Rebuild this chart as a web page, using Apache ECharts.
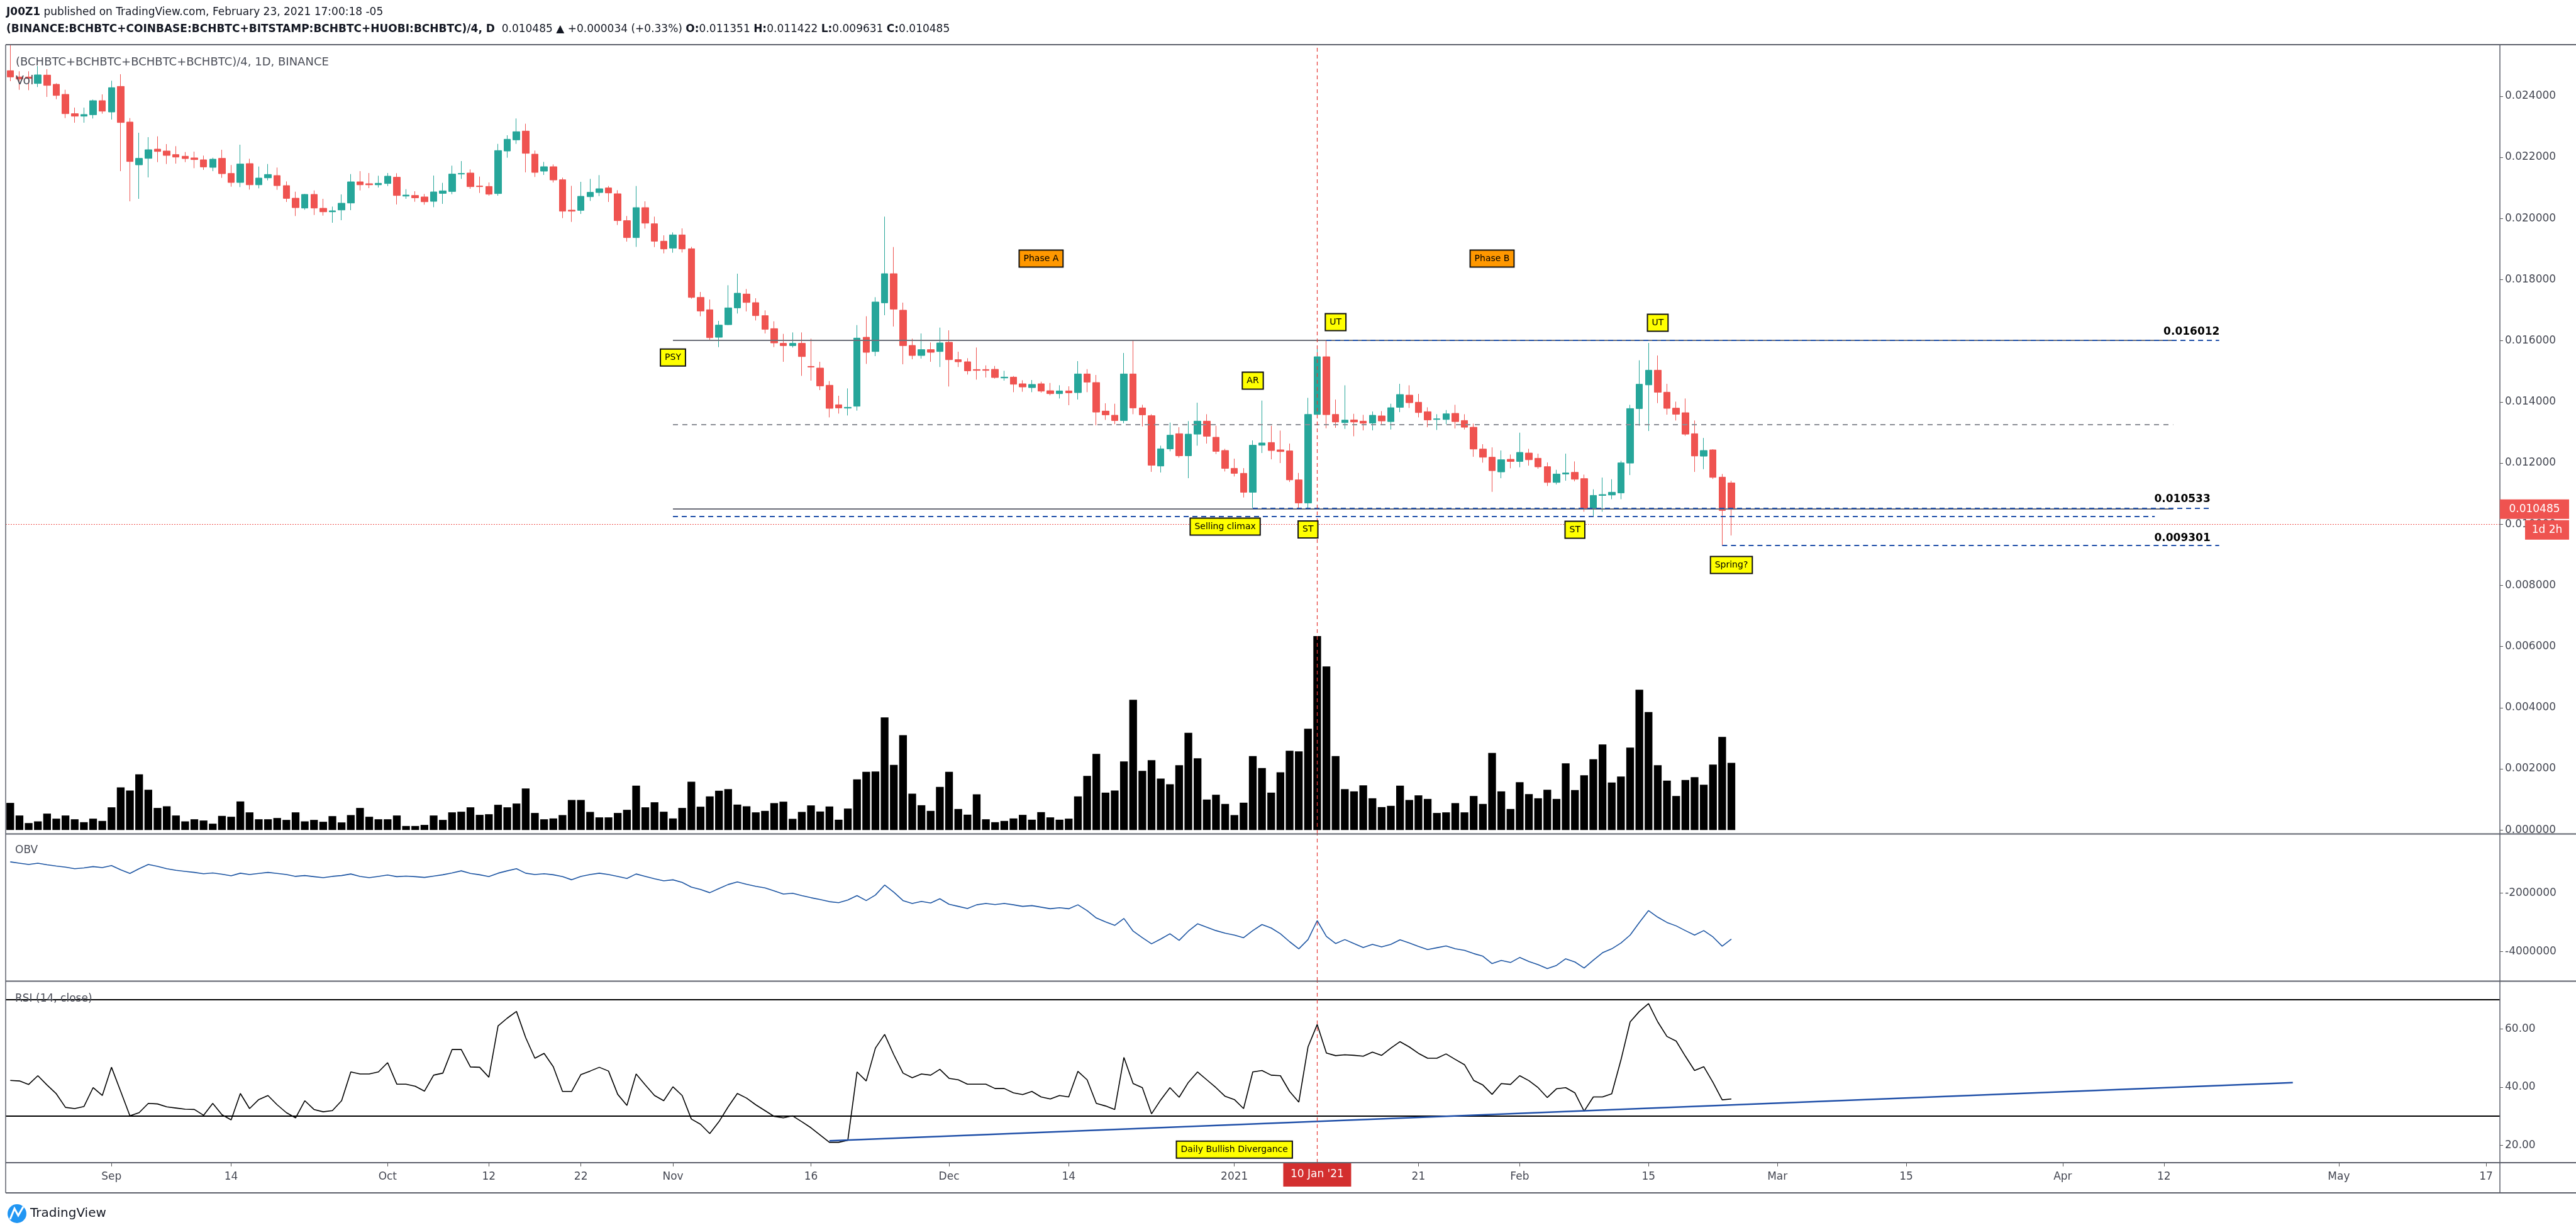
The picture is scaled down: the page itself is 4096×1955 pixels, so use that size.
<!DOCTYPE html>
<html><head><meta charset="utf-8">
<script src="https://cdn.jsdelivr.net/npm/echarts/dist/echarts.min.js"></script>
<style>html,body{margin:0;padding:0;background:#fff;overflow:hidden}#c{width:4096px;height:1955px}</style>
</head><body><div id="c"></div>
<script>
// ---- daily candles, Aug 21 2020 .. Feb 24 2021 (188 bars) ----
const opens = [
0.024834,0.024629,0.024629,0.024416,0.024690,0.024388,0.024059,0.023428,0.023346,0.023394,
0.023853,0.023483,0.024320,0.023154,0.021754,0.021967,0.022269,0.022207,0.022090,0.022036,
0.021981,0.021919,0.021672,0.021967,0.021473,0.021178,0.021795,0.021102,0.021329,0.021404,
0.021075,0.020664,0.020341,0.020787,0.020334,0.020218,0.020279,0.020506,0.021198,0.021137,
0.021102,0.021144,0.021349,0.020732,0.020753,0.020705,0.020561,0.020821,0.020883,0.021453,
0.021487,0.021062,0.021048,0.020815,0.022207,0.022571,0.022859,0.022104,0.021549,0.021693,
0.021267,0.020273,0.020266,0.020712,0.020849,0.021000,0.020808,0.019930,0.019374,0.020355,
0.019827,0.019257,0.019031,0.019463,0.019010,0.017419,0.017014,0.016115,0.016527,0.017076,
0.017529,0.017247,0.016822,0.016397,0.015917,0.015841,0.015917,0.015162,0.015107,0.014545,
0.013907,0.013797,0.013859,0.016115,0.015649,0.017241,0.018194,0.017001,0.015848,0.015519,
0.015711,0.015649,0.015951,0.015382,0.015313,0.015059,0.015059,0.015066,0.014785,0.014812,
0.014593,0.014469,0.014593,0.014366,0.014270,0.014360,0.014305,0.014915,0.014634,0.013701,
0.013564,0.013392,0.014915,0.013804,0.013550,0.011904,0.012466,0.012960,0.012240,0.012946,
0.013372,0.012844,0.012411,0.011828,0.011664,0.011046,0.012583,0.012672,0.012432,0.012398,
0.011451,0.010696,0.013591,0.015477,0.013591,0.013323,0.013412,0.013371,0.013309,0.013543,
0.013357,0.013824,0.014222,0.013989,0.013680,0.013426,0.013426,0.013625,0.013392,0.013172,
0.012459,0.012191,0.011711,0.012123,0.012054,0.012328,0.012157,0.011883,0.011368,0.011642,
0.011697,0.011492,0.010511,0.010943,0.010956,0.011025,0.011999,0.013783,0.014558,0.015038,
0.014318,0.013796,0.013646,0.012960,0.012226,0.012432,0.011540,0.011351];
const highs = [
0.025685,0.024814,0.024814,0.024985,0.024882,0.024423,0.024210,0.023627,0.023627,0.023888,
0.024059,0.024505,0.024718,0.023284,0.022804,0.022660,0.022687,0.022433,0.022365,0.022173,
0.022187,0.022056,0.021988,0.022248,0.021748,0.022413,0.021953,0.021699,0.021782,0.021665,
0.021212,0.020876,0.020801,0.020917,0.020643,0.020389,0.020787,0.021452,0.021548,0.021487,
0.021398,0.021487,0.021480,0.020958,0.020890,0.020801,0.021404,0.021165,0.021727,0.021878,
0.021604,0.021370,0.021178,0.022440,0.022722,0.023271,0.023099,0.022221,0.021850,0.021768,
0.021336,0.021068,0.021199,0.021295,0.021418,0.021062,0.020924,0.020081,0.021062,0.020561,
0.020060,0.019450,0.019545,0.019676,0.019072,0.017597,0.017350,0.016651,0.017817,0.018194,
0.017693,0.017391,0.016994,0.016637,0.016225,0.016273,0.016273,0.016067,0.015313,0.014682,
0.014202,0.014442,0.016513,0.016802,0.017426,0.020060,0.019066,0.017248,0.016068,0.016239,
0.015944,0.016431,0.016342,0.015642,0.015430,0.015779,0.015196,0.015176,0.015018,0.014847,
0.014709,0.014716,0.014661,0.014620,0.014545,0.014511,0.015334,0.015073,0.014881,0.013955,
0.013941,0.015601,0.016033,0.013907,0.013598,0.012569,0.013324,0.013173,0.013372,0.013975,
0.013598,0.013221,0.012466,0.012144,0.011835,0.012741,0.014044,0.013221,0.013063,0.012638,
0.011677,0.014133,0.015800,0.016012,0.014078,0.014544,0.013611,0.013577,0.013687,0.013700,
0.013941,0.014592,0.014544,0.014263,0.013824,0.013598,0.013735,0.013906,0.013598,0.013289,
0.012617,0.012514,0.012411,0.012280,0.012994,0.012466,0.012308,0.012020,0.011780,0.012308,
0.012054,0.011622,0.011142,0.011526,0.011471,0.012075,0.013906,0.015361,0.015930,0.015518,
0.014592,0.014009,0.014112,0.013392,0.012822,0.012452,0.011643,0.011422];
const lows = [
0.024491,0.024210,0.024196,0.024299,0.023977,0.023901,0.023284,0.023133,0.023133,0.023270,
0.023428,0.023236,0.021548,0.020561,0.020643,0.021343,0.021843,0.021782,0.021795,0.021843,
0.021645,0.021590,0.021548,0.021329,0.021041,0.021027,0.020945,0.020986,0.021247,0.020938,
0.020540,0.020080,0.020286,0.020115,0.020094,0.019861,0.019943,0.020272,0.020917,0.020993,
0.021013,0.021061,0.020458,0.020643,0.020547,0.020451,0.020369,0.020478,0.020794,0.021295,
0.020972,0.020835,0.020746,0.020746,0.021988,0.022440,0.021508,0.021357,0.021425,0.021178,
0.020012,0.019888,0.020149,0.020574,0.020732,0.020540,0.019786,0.019244,0.019072,0.019669,
0.019065,0.018860,0.018880,0.018887,0.017378,0.016802,0.015999,0.015793,0.016513,0.016891,
0.016959,0.016664,0.016239,0.015793,0.015313,0.015779,0.014853,0.014695,0.014387,0.013495,
0.013618,0.013557,0.013715,0.015244,0.015498,0.016836,0.016466,0.015231,0.015395,0.015416,
0.015313,0.015142,0.014504,0.015142,0.014895,0.014730,0.014799,0.014764,0.014696,0.014319,
0.014332,0.014319,0.014305,0.014216,0.014113,0.013893,0.014079,0.014319,0.013235,0.013413,
0.013269,0.013303,0.013598,0.013200,0.011712,0.011691,0.012384,0.012178,0.011506,0.012569,
0.012638,0.012295,0.011725,0.011561,0.010875,0.010533,0.012329,0.012123,0.012000,0.011382,
0.010533,0.010533,0.013500,0.013138,0.013152,0.013117,0.012877,0.013069,0.013069,0.013275,
0.013097,0.013666,0.013803,0.013495,0.013172,0.013083,0.013275,0.013131,0.013097,0.012205,
0.012013,0.011059,0.011505,0.011828,0.011862,0.011917,0.011814,0.011251,0.011299,0.011423,
0.011402,0.010408,0.010257,0.010408,0.010819,0.010819,0.011608,0.013220,0.013049,0.013961,
0.013584,0.013392,0.012891,0.011711,0.011800,0.011480,0.009301,0.009631];
const closes = [
0.024629,0.024560,0.024581,0.024697,0.024354,0.024025,0.023428,0.023346,0.023401,0.023853,
0.023510,0.024279,0.023140,0.021864,0.021967,0.022248,0.022193,0.022063,0.022008,0.021960,
0.021926,0.021686,0.021940,0.021466,0.021178,0.021782,0.021102,0.021322,0.021439,0.021075,
0.020657,0.020355,0.020787,0.020341,0.020218,0.020252,0.020499,0.021198,0.021102,0.021102,
0.021151,0.021384,0.020753,0.020766,0.020677,0.020547,0.020869,0.020904,0.021453,0.021473,
0.021041,0.021041,0.020794,0.022221,0.022591,0.022838,0.022132,0.021507,0.021693,0.021261,
0.020238,0.020238,0.020725,0.020856,0.020972,0.020835,0.019930,0.019374,0.020355,0.019847,
0.019257,0.019004,0.019463,0.019004,0.017419,0.016973,0.016102,0.016513,0.017076,0.017556,
0.017254,0.016822,0.016376,0.015930,0.015841,0.015917,0.015484,0.015141,0.014524,0.013790,
0.013804,0.013824,0.016088,0.015622,0.017268,0.018194,0.017035,0.015841,0.015519,0.015711,
0.015622,0.015930,0.015382,0.015313,0.015018,0.015032,0.015032,0.014799,0.014812,0.014579,
0.014490,0.014572,0.014353,0.014270,0.014360,0.014298,0.014915,0.014648,0.013667,0.013578,
0.013392,0.014915,0.013804,0.013578,0.011931,0.012466,0.012912,0.012240,0.012946,0.013372,
0.012878,0.012384,0.011828,0.011664,0.011046,0.012583,0.012658,0.012411,0.012377,0.011451,
0.010696,0.013591,0.015477,0.013584,0.013344,0.013405,0.013344,0.013303,0.013563,0.013378,
0.013810,0.014242,0.013975,0.013652,0.013412,0.013447,0.013611,0.013357,0.013172,0.012459,
0.012191,0.011752,0.012109,0.012054,0.012349,0.012109,0.011876,0.011368,0.011642,0.011677,
0.011471,0.010511,0.010943,0.010970,0.011046,0.012006,0.013783,0.014578,0.015038,0.014318,
0.013790,0.013598,0.012946,0.012232,0.012411,0.011533,0.010451,0.010485];
// volume, drawn on the price scale as in the source
const volumes = [
0.000885,0.000473,0.000226,0.000281,0.000535,0.000370,0.000473,0.000350,0.000254,0.000370,
0.000295,0.000741,0.001393,0.001290,0.001818,0.001317,0.000720,0.000775,0.000473,0.000281,
0.000350,0.000309,0.000206,0.000460,0.000432,0.000933,0.000576,0.000350,0.000350,0.000391,
0.000329,0.000576,0.000281,0.000329,0.000268,0.000453,0.000247,0.000487,0.000720,0.000432,
0.000350,0.000350,0.000473,0.000130,0.000130,0.000165,0.000473,0.000329,0.000576,0.000597,
0.000741,0.000494,0.000515,0.000823,0.000741,0.000864,0.001358,0.000556,0.000350,0.000377,
0.000487,0.000981,0.000981,0.000590,0.000412,0.000412,0.000556,0.000659,0.001447,0.000741,
0.000906,0.000597,0.000377,0.000720,0.001578,0.000761,0.001098,0.001283,0.001338,0.000830,
0.000775,0.000576,0.000624,0.000878,0.000926,0.000364,0.000590,0.000803,0.000604,0.000768,
0.000336,0.000700,0.001653,0.001900,0.001914,0.003684,0.002127,0.003101,0.001187,0.000809,
0.000624,0.001406,0.001900,0.000686,0.000501,0.001166,0.000350,0.000254,0.000295,0.000377,
0.000494,0.000336,0.000583,0.000412,0.000336,0.000370,0.001098,0.001770,0.002490,0.001221,
0.001290,0.002243,0.004260,0.001935,0.002284,0.001681,0.001495,0.002120,0.003176,0.002346,
0.000995,0.001152,0.000851,0.000487,0.000892,0.002415,0.002024,0.001221,0.001887,0.002593,
0.002573,0.003313,0.006339,0.005351,0.002415,0.001338,0.001262,0.001461,0.001036,0.000748,
0.000789,0.001447,0.000981,0.001132,0.001015,0.000556,0.000576,0.000878,0.000576,0.001111,
0.000851,0.002518,0.001262,0.000686,0.001564,0.001173,0.001036,0.001317,0.001015,0.002181,
0.001303,0.001790,0.002312,0.002799,0.001550,0.001749,0.002696,0.004589,0.003855,0.002120,
0.001612,0.001111,0.001633,0.001729,0.001482,0.002140,0.003046,0.002195];
const obv = [
-942000,-987000,-1031000,-987000,-1040000,-1085000,-1121000,-1175000,-1148000,-1103000,
-1139000,-1067000,-1211000,-1337000,-1175000,-1031000,-1094000,-1175000,-1229000,-1265000,
-1301000,-1346000,-1319000,-1364000,-1418000,-1328000,-1373000,-1337000,-1301000,-1337000,
-1373000,-1436000,-1409000,-1445000,-1481000,-1436000,-1409000,-1355000,-1436000,-1481000,
-1436000,-1391000,-1445000,-1427000,-1445000,-1472000,-1427000,-1382000,-1319000,-1247000,
-1337000,-1382000,-1445000,-1328000,-1247000,-1175000,-1328000,-1373000,-1346000,-1382000,
-1445000,-1553000,-1436000,-1373000,-1328000,-1373000,-1436000,-1508000,-1355000,-1436000,
-1517000,-1588000,-1553000,-1642000,-1804000,-1885000,-1993000,-1849000,-1714000,-1624000,
-1705000,-1777000,-1831000,-1930000,-2038000,-2011000,-2092000,-2164000,-2226000,-2298000,
-2334000,-2244000,-2092000,-2262000,-2074000,-1732000,-1975000,-2262000,-2361000,-2289000,
-2343000,-2199000,-2388000,-2460000,-2532000,-2406000,-2361000,-2397000,-2361000,-2406000,
-2460000,-2433000,-2487000,-2541000,-2505000,-2541000,-2406000,-2604000,-2855000,-2990000,
-3107000,-2873000,-3304000,-3529000,-3736000,-3574000,-3394000,-3619000,-3304000,-3053000,
-3170000,-3286000,-3376000,-3439000,-3529000,-3286000,-3080000,-3197000,-3394000,-3664000,
-3907000,-3592000,-2945000,-3484000,-3727000,-3592000,-3727000,-3861000,-3754000,-3843000,
-3754000,-3601000,-3709000,-3826000,-3934000,-3871000,-3808000,-3907000,-3961000,-4069000,
-4158000,-4410000,-4302000,-4374000,-4203000,-4338000,-4446000,-4581000,-4473000,-4248000,
-4356000,-4562000,-4293000,-4041000,-3907000,-3709000,-3439000,-3008000,-2604000,-2828000,
-3008000,-3125000,-3286000,-3439000,-3286000,-3502000,-3816000,-3574000];
const rsi = [
42.3,42.1,40.9,43.9,40.7,37.7,33.0,32.6,33.3,39.8,
37.1,46.8,38.5,30.1,31.2,34.4,34.2,33.2,32.8,32.4,
32.3,30.3,34.4,30.5,28.7,37.8,32.6,35.7,37.1,33.9,
31.2,29.4,35.3,32.3,31.5,31.9,35.3,45.2,44.5,44.5,
45.2,48.4,41.0,41.0,40.3,38.6,44.1,44.8,52.9,52.9,
46.9,46.8,43.4,61.0,63.7,66.0,57.0,49.9,51.6,47.0,
38.5,38.5,44.3,45.5,46.8,45.5,37.5,33.7,44.5,40.7,
37.1,35.3,40.1,37.1,29.0,27.2,24.0,28.1,33.2,37.8,
36.2,33.9,31.9,29.9,29.4,30.1,28.1,26.0,23.5,21.0,
21.0,21.7,45.2,42.1,53.4,58.1,51.1,44.8,43.2,44.5,
44.1,46.1,43.0,42.5,41.0,41.0,41.0,39.5,39.5,38.0,
37.4,38.5,36.6,35.9,37.1,36.6,45.4,42.5,34.4,33.5,
32.3,50.2,41.2,39.8,30.8,35.6,39.8,36.5,41.6,45.2,
42.5,39.8,36.8,35.7,32.6,45.2,45.7,44.1,43.9,38.5,
34.8,53.8,61.5,51.7,50.8,51.1,50.9,50.6,52.0,50.9,
53.4,55.6,53.8,51.6,49.9,49.9,51.4,49.5,47.7,42.3,
40.7,37.5,41.2,40.9,43.9,42.2,39.8,36.4,39.4,39.8,
38.0,31.7,36.6,36.6,37.7,49.3,62.4,66.0,68.7,62.4,
57.4,55.8,50.6,45.7,47.0,41.6,35.6,35.9];

// axis ticks
const priceTicks = [0,0.002,0.004,0.006,0.008,0.010,0.012,0.014,0.016,0.018,0.020,0.022,0.024];
const obvTicks = [-2000000,-4000000];
const rsiTicks = [20,40,60];
const tickDates = ['2020-09-01','2020-09-14','2020-10-01','2020-10-12','2020-10-22','2020-11-01','2020-11-16','2020-12-01','2020-12-14','2021-01-01','2021-01-21','2021-02-01','2021-02-15','2021-03-01','2021-03-15','2021-04-01','2021-04-12','2021-05-01','2021-05-17'];
const tickLabels = ['Sep','14','Oct','12','22','Nov','16','Dec','14','2021','21','Feb','15','Mar','15','Apr','12','May','17'];

// drawn levels: [price, fromIndex, toIndex]
const greySolidLevels = [[0.016012,72,235],[0.010500,72,235]];
const greyDashedLevels = [[0.013255,72,235]];
const blueDashedLevels = [[0.010260,72,233],[0.016012,143,240],[0.010533,135,239],[0.009301,186,240]];
const lastPrice = 0.010485;
const cursorIndex = 142;
const rsiBands = [70,30];
const rsiTrend = [[89,21.5],[248,41.5]];

// annotations: [text, index, price, kind]
const notes = [
 ['PSY',72,0.01545,'y'],['Phase A',112,0.018688,'o'],['Phase B',161,0.018688,'o'],
 ['AR',135,0.014695,'y'],['UT',144,0.016609,'y'],['UT',179,0.016589,'y'],
 ['Selling climax',132,0.009921,'y'],['ST',141,0.009828,'y'],['ST',170,0.009818,'y'],
 ['Spring?',187,0.008665,'y'],
 ['0.016012',237,0.016280,'n'],['0.010533',236,0.010813,'n'],['0.009301',236,0.009550,'n']
];
const rsiNotes = [['Daily Bullish Divergance',133,18.5,'y']];

// categories: one per calendar day
const cats = [];
{ const s = Date.UTC(2020,7,21); for (let k=0;k<271;k++) cats.push(new Date(s+k*86400000).toISOString().slice(0,10)); }
const C = i => cats[i];

const FONT = 'DejaVu Sans';
const boxStyle = {
 y:{show:true,position:'inside',formatter:'{b}',color:'#000',fontFamily:FONT,fontSize:14,lineHeight:17,backgroundColor:'#ffff00',borderColor:'#111',borderWidth:2,padding:[4,6]},
 o:{show:true,position:'inside',formatter:'{b}',color:'#000',fontFamily:FONT,fontSize:14,lineHeight:17,backgroundColor:'#ff9800',borderColor:'#111',borderWidth:2,padding:[4,6]},
 n:{show:true,position:'inside',formatter:'{b}',color:'#000',fontFamily:FONT,fontSize:17,fontWeight:'bold'}
};
const mkPts = arr => arr.map(a => ({name:a[0], coord:[C(a[1]), a[2]], label:boxStyle[a[3]]}));

const GREY='#6b6e78', GREYD='#8b8e96', BLUE='#1f4fa8', RED='#ef5350';
const seg = (lv, style) => [{coord:[C(lv[1]),lv[0]], lineStyle:style},{coord:[C(lv[2]),lv[0]]}];
const mainLines = [].concat(
 greySolidLevels.map(l=>seg(l,{color:GREY,width:2,type:'solid'})),
 greyDashedLevels.map(l=>seg(l,{color:GREYD,width:2,type:[8,7]})),
 blueDashedLevels.map(l=>seg(l,{color:BLUE,width:2,type:[8,6]})),
 [{yAxis:lastPrice, lineStyle:{color:RED,width:1,type:[2,2]}},
  {xAxis:C(cursorIndex), lineStyle:{color:'#e53935',width:1.2,type:[6,5]}}]
);
const cursorLine = {xAxis:C(cursorIndex), lineStyle:{color:'#e53935',width:1.2,type:[6,5]}};

const G = {left:9, right:121};
const axisLbl = {fontFamily:FONT, fontSize:17, color:'#434651'};
const hidX = gi => ({type:'category', gridIndex:gi, data:cats, boundaryGap:true, show:false});

const chart = echarts.init(document.getElementById('c'), null, {renderer:'canvas'});
const option = {
 animation:false,
 textStyle:{fontFamily:FONT},
 grid:[
  {left:G.left, right:G.right, top:71, height:1254},
  {left:G.left, right:G.right, top:1326, height:233},
  {left:G.left, right:G.right, top:1560, height:288}
 ],
 xAxis:[hidX(0), hidX(1), {
  type:'category', gridIndex:2, data:cats, boundaryGap:true,
  axisLine:{show:false},
  axisTick:{show:true, alignWithLabel:true, length:6, interval:(i,v)=>tickDates.includes(v), lineStyle:{color:'#555'}},
  axisLabel:Object.assign({interval:(i,v)=>tickDates.includes(v), formatter:v=>{const k=tickDates.indexOf(v);return k<0?'':tickLabels[k];}, margin:14}, axisLbl)
 }],
 yAxis:[
  {type:'value', gridIndex:0, position:'right', min:-0.00012, max:0.025685, splitLine:{show:false}, axisLine:{show:false},
   axisTick:{show:true, length:5, customValues:priceTicks, lineStyle:{color:'#555'}},
   axisLabel:Object.assign({customValues:priceTicks, formatter:v=>v.toFixed(6), margin:8}, axisLbl)},
  {type:'value', gridIndex:1, position:'right', min:-5000000, max:0, splitLine:{show:false}, axisLine:{show:false},
   axisTick:{show:true, length:5, customValues:obvTicks, lineStyle:{color:'#555'}},
   axisLabel:Object.assign({customValues:obvTicks, formatter:v=>String(Math.round(v)), margin:8}, axisLbl)},
  {type:'value', gridIndex:2, position:'right', min:14, max:76.3, splitLine:{show:false}, axisLine:{show:false},
   axisTick:{show:true, length:5, customValues:rsiTicks, lineStyle:{color:'#555'}},
   axisLabel:Object.assign({customValues:rsiTicks, formatter:v=>v.toFixed(2), margin:8}, axisLbl)}
 ],
 series:[
  {type:'bar', name:'Vol', xAxisIndex:0, yAxisIndex:0, data:volumes, barWidth:'84%', itemStyle:{color:'#000'}, silent:true, z:1},
  {type:'candlestick', name:'Price', xAxisIndex:0, yAxisIndex:0, barWidth:11, z:3,
   data:opens.map((o,i)=>[o, closes[i], lows[i], highs[i]]),
   itemStyle:{color:'#26a69a', color0:'#ef5350', borderColor:'#26a69a', borderColor0:'#ef5350', borderWidth:1},
   markLine:{silent:true, symbol:['none','none'], label:{show:false}, animation:false, data:mainLines},
   markPoint:{silent:true, symbol:'rect', symbolSize:1, itemStyle:{color:'rgba(0,0,0,0)'}, animation:false, data:mkPts(notes)}
  },
  {type:'line', name:'OBV', xAxisIndex:1, yAxisIndex:1, data:obv, symbol:'none', lineStyle:{color:'#1e56a3', width:1.6}, z:3,
   markLine:{silent:true, symbol:['none','none'], label:{show:false}, animation:false, data:[cursorLine]}},
  {type:'line', name:'RSI', xAxisIndex:2, yAxisIndex:2, data:rsi, symbol:'none', lineStyle:{color:'#000', width:1.6}, z:3,
   markLine:{silent:true, symbol:['none','none'], label:{show:false}, animation:false, data:[
     ...rsiBands.map(b=>({yAxis:b, lineStyle:{color:'#000', width:2.2, type:'solid'}})),
     [{coord:[C(rsiTrend[0][0]), rsiTrend[0][1]], lineStyle:{color:BLUE, width:2.5, type:'solid'}},{coord:[C(rsiTrend[1][0]), rsiTrend[1][1]]}],
     cursorLine]},
   markPoint:{silent:true, symbol:'rect', symbolSize:1, itemStyle:{color:'rgba(0,0,0,0)'}, animation:false, data:mkPts(rsiNotes)}
  }
 ]
};
chart.setOption(option);

// overlay furniture (frame, header, tags) positioned through the chart's own scales
const pY = chart.convertToPixel({xAxisIndex:0, yAxisIndex:0}, [C(0), lastPrice])[1];
const jX = chart.convertToPixel({xAxisIndex:2, yAxisIndex:2}, [C(cursorIndex), 50])[0];
const AX = 3975;
const line = (x1,y1,x2,y2,c,w) => ({type:'line', z:50, silent:true, shape:{x1,y1,x2,y2}, style:{stroke:c, lineWidth:w}});
const txt = (x,y,text,o) => ({type:'text', z:90, silent:true, x, y, style:Object.assign({text, fill:'#131722', fontFamily:FONT, fontSize:17, verticalAlign:'middle', align:'left'}, o||{})});
const FR = '#5d606b';
const r17 = (w,c) => ({fontFamily:FONT, fontSize:17, fontWeight:w, color:c});
const graphic = [
 line(9,71,4096,71,FR,2), line(9,1325.5,4096,1325.5,FR,2), line(9,1559.5,4096,1559.5,FR,2),
 line(9,1848,4096,1848,FR,2), line(9,1896,4096,1896,FR,2),
 line(9,71,9,1896,FR,1.5), line(AX,71,AX,1896,FR,1.5),
 txt(10,20,'{b|J00Z1} {n|published on TradingView.com, February 23, 2021 17:00:18 -05}', {rich:{b:r17('bold','#131722'), n:r17('normal','#131722')}}),
 txt(10,47,'{b|(BINANCE:BCHBTC+COINBASE:BCHBTC+BITSTAMP:BCHBTC+HUOBI:BCHBTC)/4, D}{n|  0.010485 }{t|\u25B2}{n| +0.000034 (+0.33%) }{b|O:}{t|0.011351}{n| }{b|H:}{t|0.011422}{n| }{b|L:}{t|0.009631}{n| }{b|C:}{t|0.010485}',
   {rich:{b:r17('bold','#131722'), n:r17('normal','#131722'), t:r17('normal','#26a69a')}}),
 txt(25,99,'(BCHBTC+BCHBTC+BCHBTC+BCHBTC)/4, 1D, BINANCE', {fill:'#4a4d57', fontSize:18}),
 txt(25,129,'Vol', {fill:'#4a4d57', fontSize:19}),
 txt(24,1352,'OBV', {fill:'#4a4d57', fontSize:17}),
 txt(24,1588,'RSI (14, close)', {fill:'#4a4d57', fontSize:17}),
 {type:'rect', z:70, silent:true, shape:{x:AX, y:pY-16, width:110, height:31}, style:{fill:RED}},
 txt(AX+55, pY, '0.010485', {fill:'#fff', align:'center'}),
 {type:'rect', z:70, silent:true, shape:{x:4015, y:pY+17, width:70, height:31}, style:{fill:RED}},
 txt(4050, pY+33, '1d 2h', {fill:'#fff', align:'center'}),
 {type:'rect', z:70, silent:true, shape:{x:jX-54, y:1849, width:108, height:37}, style:{fill:'#d32f2f'}},
 txt(jX, 1867, "10 Jan '21", {fill:'#fff', align:'center'}),
 {type:'circle', z:60, silent:true, shape:{cx:27, cy:1929, r:15}, style:{fill:'#2196f3'}},
 {type:'polyline', z:61, silent:true, shape:{points:[[16,1938],[23,1921],[29,1932],[37,1918]]}, style:{stroke:'#fff', lineWidth:3, fill:null}},
 txt(48,1929,'TradingView', {fontSize:20, fill:'#131722'})
];
chart.setOption({graphic});
</script></body></html>
